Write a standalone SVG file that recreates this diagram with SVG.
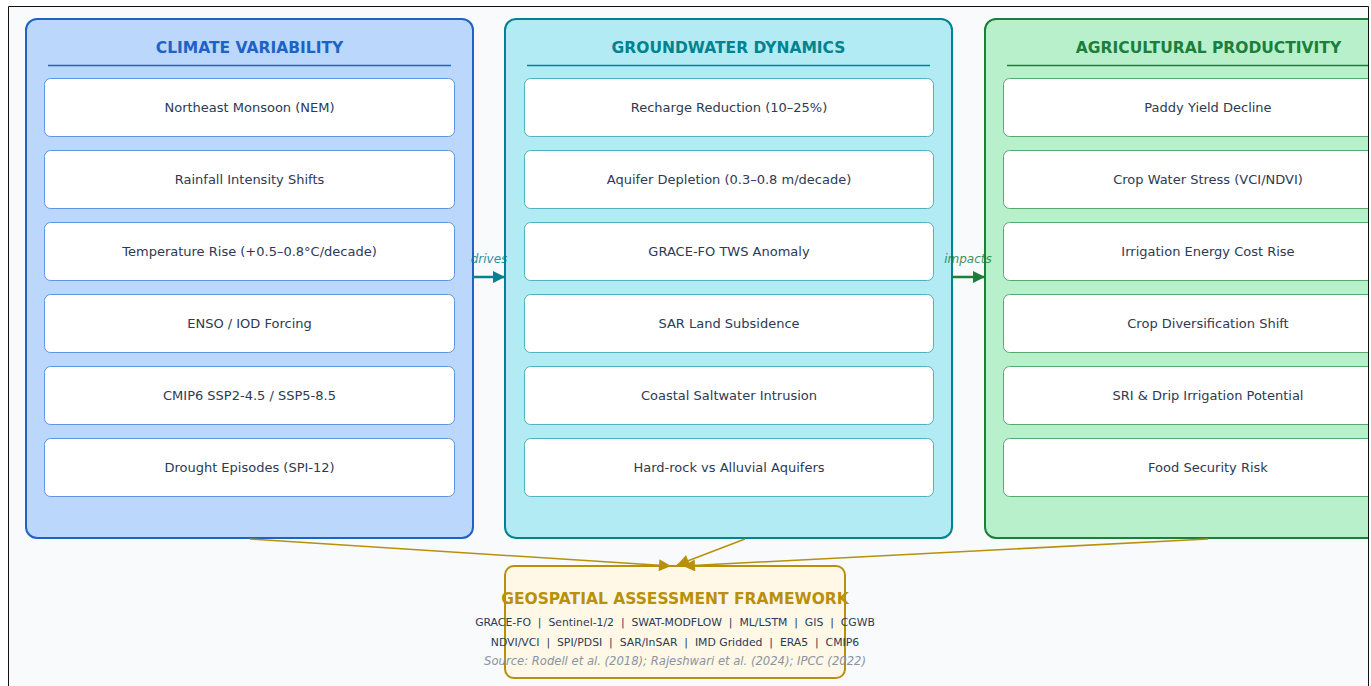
<svg xmlns="http://www.w3.org/2000/svg" width="1371" height="686" viewBox="0 0 1371 686">
  <style>
    .panel-title { font-family: "DejaVu Sans", "Liberation Sans", sans-serif; font-size: 15.5px; font-weight: bold; text-anchor: middle; }
    .item-box { fill: #ffffff; stroke-width: 1; }
    .item { font-family: "DejaVu Sans", "Liberation Sans", sans-serif; font-size: 13px; fill: #2c3a55; text-anchor: middle; }
    .tool { font-family: "DejaVu Sans", "Liberation Sans", sans-serif; font-size: 10.85px; fill: #2c3a55; text-anchor: middle; }
    .src { font-family: "DejaVu Sans", "Liberation Sans", sans-serif; font-size: 11.6px; font-style: italic; fill: #8a93a3; text-anchor: middle; }
    .flow-label { font-family: "DejaVu Sans", "Liberation Sans", sans-serif; font-size: 12px; font-style: italic; text-anchor: middle; opacity: 0.85; }
    .blue .item-box { stroke: #5b96e2; }
    .cyan .item-box { stroke: #4fb2bd; }
    .green .item-box { stroke: #55ab6e; }
  </style>
  <defs>
    <clipPath id="page">
      <rect x="8" y="6" width="1361" height="690"/>
    </clipPath>
    <marker id="head-teal" viewBox="0 0 10 10" refX="10" refY="5" markerWidth="5" markerHeight="5" orient="auto" markerUnits="strokeWidth">
      <path d="M0,0 L10,5 L0,10 Z" fill="#00838f"/>
    </marker>
    <marker id="head-green" viewBox="0 0 10 10" refX="10" refY="5" markerWidth="5" markerHeight="5" orient="auto" markerUnits="strokeWidth">
      <path d="M0,0 L10,5 L0,10 Z" fill="#1b7f3a"/>
    </marker>
    <marker id="head-gold" viewBox="0 0 10 10" refX="10" refY="5" markerWidth="9" markerHeight="8" orient="auto" markerUnits="strokeWidth">
      <path d="M0,0 L10,5 L0,10 Z" fill="#b8900a"/>
    </marker>
  </defs>

  <!-- page -->
  <rect x="0" y="0" width="1371" height="686" fill="#ffffff"/>
  <rect x="8.5" y="6.5" width="1360" height="700" fill="#f8fafc"/>

  <g clip-path="url(#page)">
    <!-- Climate variability -->
    <g id="climate" class="blue">
      <rect x="26" y="19" width="447" height="519" rx="11" fill="#bbd7fb" stroke="#1e63c4" stroke-width="2"/>
      <text class="panel-title" x="249.5" y="53" fill="#1e63c4">CLIMATE VARIABILITY</text>
      <line x1="48" y1="65.5" x2="451" y2="65.5" stroke="#1e63c4" stroke-width="1.5"/>
      <rect class="item-box" x="44.5" y="78.5" width="410" height="58" rx="6"/>
      <text class="item" x="249.5" y="111.5">Northeast Monsoon (NEM)</text>
      <rect class="item-box" x="44.5" y="150.5" width="410" height="58" rx="6"/>
      <text class="item" x="249.5" y="183.5">Rainfall Intensity Shifts</text>
      <rect class="item-box" x="44.5" y="222.5" width="410" height="58" rx="6"/>
      <text class="item" x="249.5" y="255.5">Temperature Rise (+0.5–0.8°C/decade)</text>
      <rect class="item-box" x="44.5" y="294.5" width="410" height="58" rx="6"/>
      <text class="item" x="249.5" y="327.5">ENSO / IOD Forcing</text>
      <rect class="item-box" x="44.5" y="366.5" width="410" height="58" rx="6"/>
      <text class="item" x="249.5" y="399.5">CMIP6 SSP2-4.5 / SSP5-8.5</text>
      <rect class="item-box" x="44.5" y="438.5" width="410" height="58" rx="6"/>
      <text class="item" x="249.5" y="471.5">Drought Episodes (SPI-12)</text>
    </g>

    <!-- Groundwater dynamics -->
    <g id="groundwater" class="cyan">
      <rect x="505" y="19" width="447" height="519" rx="11" fill="#b2ebf4" stroke="#00838f" stroke-width="2"/>
      <text class="panel-title" x="728.5" y="53" fill="#00838f">GROUNDWATER DYNAMICS</text>
      <line x1="527" y1="65.5" x2="930" y2="65.5" stroke="#00838f" stroke-width="1.5"/>
      <rect class="item-box" x="524.5" y="78.5" width="409" height="58" rx="6"/>
      <text class="item" x="729" y="111.5">Recharge Reduction (10–25%)</text>
      <rect class="item-box" x="524.5" y="150.5" width="409" height="58" rx="6"/>
      <text class="item" x="729" y="183.5">Aquifer Depletion (0.3–0.8 m/decade)</text>
      <rect class="item-box" x="524.5" y="222.5" width="409" height="58" rx="6"/>
      <text class="item" x="729" y="255.5">GRACE-FO TWS Anomaly</text>
      <rect class="item-box" x="524.5" y="294.5" width="409" height="58" rx="6"/>
      <text class="item" x="729" y="327.5">SAR Land Subsidence</text>
      <rect class="item-box" x="524.5" y="366.5" width="409" height="58" rx="6"/>
      <text class="item" x="729" y="399.5">Coastal Saltwater Intrusion</text>
      <rect class="item-box" x="524.5" y="438.5" width="409" height="58" rx="6"/>
      <text class="item" x="729" y="471.5">Hard-rock vs Alluvial Aquifers</text>
    </g>

    <!-- Agricultural productivity -->
    <g id="agriculture" class="green">
      <rect x="985" y="19" width="447" height="519" rx="11" fill="#b9f0cc" stroke="#1b7f3a" stroke-width="2"/>
      <text class="panel-title" x="1208.5" y="53" fill="#1b7f3a">AGRICULTURAL PRODUCTIVITY</text>
      <line x1="1007" y1="65.5" x2="1410" y2="65.5" stroke="#1b7f3a" stroke-width="1.5"/>
      <rect class="item-box" x="1003.5" y="78.5" width="410" height="58" rx="6"/>
      <text class="item" x="1208" y="111.5">Paddy Yield Decline</text>
      <rect class="item-box" x="1003.5" y="150.5" width="410" height="58" rx="6"/>
      <text class="item" x="1208" y="183.5">Crop Water Stress (VCI/NDVI)</text>
      <rect class="item-box" x="1003.5" y="222.5" width="410" height="58" rx="6"/>
      <text class="item" x="1208" y="255.5">Irrigation Energy Cost Rise</text>
      <rect class="item-box" x="1003.5" y="294.5" width="410" height="58" rx="6"/>
      <text class="item" x="1208" y="327.5">Crop Diversification Shift</text>
      <rect class="item-box" x="1003.5" y="366.5" width="410" height="58" rx="6"/>
      <text class="item" x="1208" y="399.5">SRI &amp; Drip Irrigation Potential</text>
      <rect class="item-box" x="1003.5" y="438.5" width="410" height="58" rx="6"/>
      <text class="item" x="1208" y="471.5">Food Security Risk</text>
    </g>

    <!-- Geospatial assessment framework -->
    <g id="framework">
      <rect x="505" y="566" width="340" height="112" rx="9" fill="#fff8e6" stroke="#b8900a" stroke-width="2"/>
      <text class="panel-title" x="675" y="604" fill="#b8900a">GEOSPATIAL ASSESSMENT FRAMEWORK</text>
      <text class="tool" x="675" y="626" xml:space="preserve">GRACE-FO  |  Sentinel-1/2  |  SWAT-MODFLOW  |  ML/LSTM  |  GIS  |  CGWB</text>
      <text class="tool" x="675" y="646" xml:space="preserve">NDVI/VCI  |  SPI/PDSI  |  SAR/InSAR  |  IMD Gridded  |  ERA5  |  CMIP6</text>
      <text class="src" x="675" y="665">Source: Rodell et al. (2018); Rajeshwari et al. (2024); IPCC (2022)</text>
    </g>

    <!-- connectors -->
    <g id="connectors" fill="none">
      <line x1="473" y1="277" x2="505" y2="277" stroke="#00838f" stroke-width="2.5" marker-end="url(#head-teal)"/>
      <text class="flow-label" x="489" y="263" fill="#00838f" stroke="none">drives</text>
      <line x1="952" y1="277" x2="985" y2="277" stroke="#1b7f3a" stroke-width="2.5" marker-end="url(#head-green)"/>
      <text class="flow-label" x="968" y="263" fill="#1b7f3a" stroke="none">impacts</text>
      <line x1="250" y1="539" x2="671" y2="566" stroke="#b8900a" stroke-width="1.5" marker-end="url(#head-gold)"/>
      <line x1="745" y1="539" x2="677" y2="565" stroke="#b8900a" stroke-width="1.5" marker-end="url(#head-gold)"/>
      <line x1="1208" y1="539" x2="683" y2="566" stroke="#b8900a" stroke-width="1.5" marker-end="url(#head-gold)"/>
    </g>
  </g>

  <!-- page frame -->
  <path d="M8.5,690 V6.5 H1368.5 V690" fill="none" stroke="#111111" stroke-width="1"/>
</svg>
